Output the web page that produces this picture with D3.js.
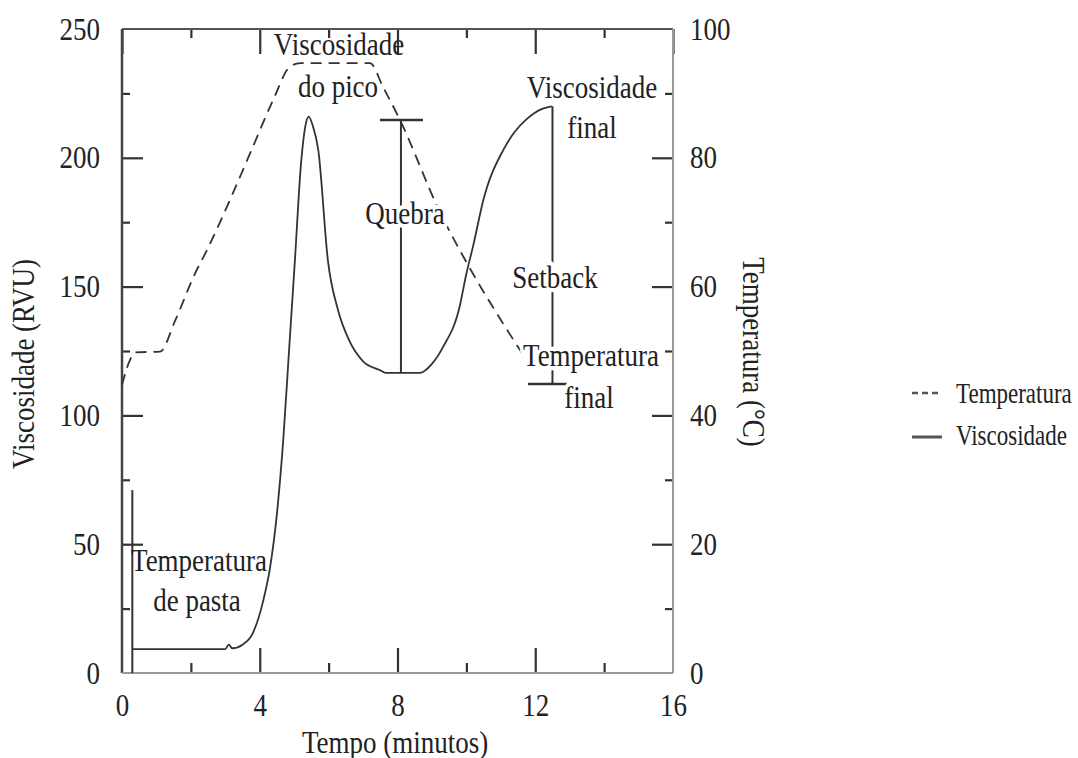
<!DOCTYPE html>
<html>
<head>
<meta charset="utf-8">
<script src="https://cdn.jsdelivr.net/npm/d3@7"></script>
<style>
  body { margin: 0; background: #fff; }
  text { font-family: "Liberation Serif", "DejaVu Serif", serif; fill: #222; }
  .halo { stroke: #fff; stroke-width: 7px; paint-order: stroke; stroke-linejoin: round; }
</style>
</head>
<body>
<script>
// viscosity curve (tempo em minutos, RVU)
var viscTime = [0.3, 3.0, 3.1, 3.2, 3.5, 3.8, 4.1, 4.3, 4.5, 4.68, 4.85, 5.02, 5.2, 5.32, 5.42, 5.55, 5.7, 5.98, 6.27, 6.6, 7.0, 7.5, 7.65, 8.65, 9.0, 9.32, 9.8, 10.0, 10.2, 10.5, 11.07, 11.4, 11.75, 12.2, 12.48]
var viscValue = [9.3, 9.3, 11, 9.6, 11, 15.5, 28, 41, 62, 90, 125, 160, 198, 212, 216, 212, 203, 160, 141, 129, 121, 117.5, 116.5, 116.5, 120, 126.5, 142, 155, 166, 184, 203, 210, 215, 219, 220]

// temperature curve (tempo, °C)
var tempTime = [0, 0.23, 0.4, 1.1, 1.55, 2.1, 2.47, 3.22, 3.8, 4.39, 4.87, 5.17, 7.2, 7.58, 8.07, 9.23, 10.0, 10.98, 11.6]
var tempValue = [44.7, 48.6, 49.8, 49.9, 54.8, 61.8, 65.7, 74.5, 81.7, 89, 94.1, 94.7, 94.7, 91, 85.9, 71.6, 63.8, 55, 49.8]

// annotation markers: [tempo, viscosidade inicial, viscosidade final]
var pastaMark = [0.3, 0, 71]
var quebraMark = [8.1, 116.5, 214.7]
var quebraCap = [7.49, 8.74]
var setbackMark = [12.5, 112.2, 220]
var setbackCap = [11.79, 12.92]

var xTicks = [0, 4, 8, 12, 16]
var xMinor = [2, 6, 10, 14]
var yLeftTicks = [0, 50, 100, 150, 200, 250]
var yLeftMinor = [25, 75, 125, 175, 225]
var yRightTicks = [0, 20, 40, 60, 80, 100]
var yRightMinor = [10, 30, 50, 70, 90]

var w = 1078, h = 758
var pLeft = 122, pRight = 673, pTop = 29, pBottom = 673
var sy = 1.18   // the source text is drawn a little taller than it is wide

var svg = d3.select("body").append("svg")
    .attr("width", w)
    .attr("height", h)

var x = d3.scaleLinear().domain([0, 16]).range([pLeft, pRight])
var yV = d3.scaleLinear().domain([0, 250]).range([pBottom, pTop])
var yT = d3.scaleLinear().domain([0, 100]).range([pBottom, pTop])

function tickAxis(axis, g, size, vals, labels) {
    axis.tickValues(vals).tickSizeInner(size).tickSizeOuter(0).tickPadding(0)
    if (!labels) axis.tickFormat("")
    g.call(axis)
    g.select(".domain").remove()
    g.selectAll(".tick line").attr("stroke", "#333").attr("stroke-width", 2.2)
    return g
}

// minor ticks
tickAxis(d3.axisLeft(yV), svg.append("g").attr("transform", "translate(" + pLeft + ",0)"), -8, yLeftMinor, false)
tickAxis(d3.axisRight(yT), svg.append("g").attr("transform", "translate(" + pRight + ",0)"), -8, yRightMinor, false)
tickAxis(d3.axisBottom(x), svg.append("g").attr("transform", "translate(0," + pBottom + ")"), -10, xMinor, false)
tickAxis(d3.axisTop(x), svg.append("g").attr("transform", "translate(0," + pTop + ")"), -9, xMinor, false)
tickAxis(d3.axisTop(x), svg.append("g").attr("transform", "translate(0," + pTop + ")"), -25, xTicks, false)

// major ticks with labels
var gl = tickAxis(d3.axisLeft(yV), svg.append("g").attr("transform", "translate(" + pLeft + ",0)"), -21, yLeftTicks, true)
gl.selectAll("text").attr("x", -22).attr("font-size", 27).attr("fill", "#222")
    .attr("transform", "scale(1," + sy + ")")
gl.selectAll(".tick").filter(function (d) { return d == 0 || d == 250 }).select("line").remove()

var gr = tickAxis(d3.axisRight(yT), svg.append("g").attr("transform", "translate(" + pRight + ",0)"), -21, yRightTicks, true)
gr.selectAll("text").attr("x", 17).attr("font-size", 27).attr("fill", "#222")
    .attr("transform", "scale(1," + sy + ")")
gr.selectAll(".tick").filter(function (d) { return d == 0 || d == 100 }).select("line").remove()

var gb = tickAxis(d3.axisBottom(x), svg.append("g").attr("transform", "translate(0," + pBottom + ")"), -25, xTicks, true)
gb.selectAll("text").attr("y", 20 / sy).attr("dy", "0.71em").attr("font-size", 27).attr("fill", "#222")
    .attr("transform", "scale(1," + sy + ")")
gb.selectAll(".tick").filter(function (d) { return d == 0 || d == 16 }).select("line").remove()

// frame
svg.append("line").attr("x1", pLeft).attr("x2", pRight).attr("y1", pTop).attr("y2", pTop).attr("stroke", "#555").attr("stroke-width", 2)
svg.append("line").attr("x1", pLeft).attr("x2", pLeft).attr("y1", pTop).attr("y2", pBottom).attr("stroke", "#444").attr("stroke-width", 2.5)
svg.append("line").attr("x1", pRight).attr("x2", pRight).attr("y1", pTop).attr("y2", pBottom).attr("stroke", "#999").attr("stroke-width", 2)
svg.append("line").attr("x1", pLeft).attr("x2", pRight).attr("y1", pBottom).attr("y2", pBottom).attr("stroke", "#999").attr("stroke-width", 2)

// curves
var viscLine = d3.line()
    .x(function (d, i) { return x(viscTime[i]) })
    .y(function (d) { return yV(d) })
    .curve(d3.curveMonotoneX)

var tempLine = d3.line()
    .x(function (d, i) { return x(tempTime[i]) })
    .y(function (d) { return yT(d) })
    .curve(d3.curveMonotoneX)

svg.append("path").attr("d", tempLine(tempValue))
    .attr("fill", "none").attr("stroke", "#333").attr("stroke-width", 1.8)
    .attr("stroke-dasharray", "11,7")

svg.append("path").attr("d", viscLine(viscValue))
    .attr("fill", "none").attr("stroke", "#333").attr("stroke-width", 1.8)

// markers
function vline(m) {
    svg.append("line").attr("x1", x(m[0])).attr("x2", x(m[0]))
        .attr("y1", yV(m[1])).attr("y2", yV(m[2]))
        .attr("stroke", "#333").attr("stroke-width", 2)
}
function hline(t, v) {
    svg.append("line").attr("x1", x(t[0])).attr("x2", x(t[1]))
        .attr("y1", yV(v)).attr("y2", yV(v))
        .attr("stroke", "#333").attr("stroke-width", 2.5)
}
vline(pastaMark)
vline(quebraMark)
hline(quebraCap, quebraMark[2])
vline(setbackMark)
hline(setbackCap, setbackMark[1])

// text helper: position, optional rotation, taller glyphs
function addText(txt, px, py, size, anchor, rot) {
    return svg.append("text")
        .attr("transform", "translate(" + px + "," + py + ") rotate(" + (rot || 0) + ") scale(1," + sy + ")")
        .attr("text-anchor", anchor).attr("font-size", size).text(txt)
}
function label(txt, cx, by, halo) {
    var t = addText(txt, cx, by, 27, "middle")
    if (halo) t.attr("class", "halo")
    return t
}
label("Viscosidade", 339, 55)
label("do pico", 338, 97)
label("Viscosidade", 592, 98)
label("final", 592, 138)
label("Quebra", 405, 224, true)
label("Setback", 555, 288, true)
label("Temperatura", 591, 366, true)
label("final", 589, 408, true)
label("Temperatura", 199, 571)
label("de pasta", 197, 611)

// axis titles
addText("Tempo (minutos)", 395, 753, 27, "middle")
addText("Viscosidade (RVU)", 34, 364, 27, "middle", -90)
addText("Temperatura (°C)", 743, 352, 27, "middle", 90)

// legend
var legend = svg.append("g").attr("transform", "translate(912,0)")
legend.append("line").attr("x1", 0).attr("x2", 30).attr("y1", 393).attr("y2", 393)
    .attr("stroke", "#555").attr("stroke-width", 2.5).attr("stroke-dasharray", "6,4")
legend.append("line").attr("x1", 0).attr("x2", 30).attr("y1", 437).attr("y2", 437)
    .attr("stroke", "#555").attr("stroke-width", 3)
addText("Temperatura", 956, 403, 23, "start").attr("transform", "translate(956,403) scale(1,1.3)")
addText("Viscosidade", 956, 445, 23, "start").attr("transform", "translate(956,445) scale(1,1.3)")
</script>
</body>
</html>
